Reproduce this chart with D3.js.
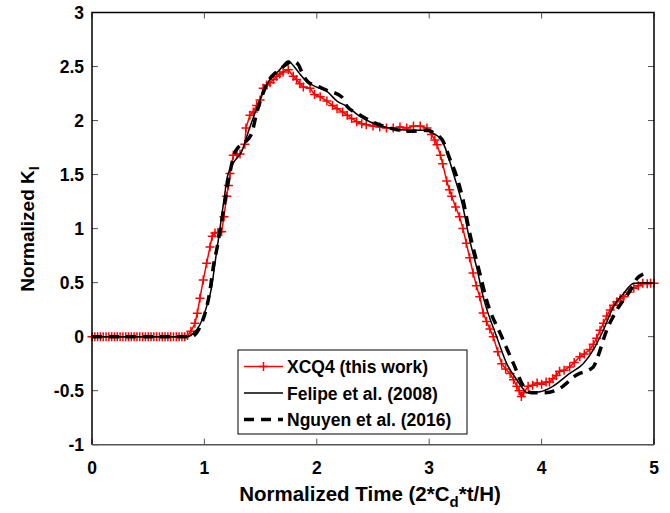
<!DOCTYPE html>
<html>
<head>
<meta charset="utf-8">
<script src="https://cdn.jsdelivr.net/npm/d3@7"></script>
<style>
  body { margin: 0; background: #fff; }
  text { font-family: "Liberation Sans", Arial, sans-serif; font-weight: bold; }
</style>
</head>
<body>
<svg id="mysvg" width="670" height="513"></svg>
<script>
// XCQ4 (this work) - red with + markers
const xcqX = [0,0.025,0.05,0.075,0.1,0.125,0.15,0.175,0.2,0.225,0.25,0.275,0.3,0.325,0.35,0.375,0.4,0.425,0.45,0.475,
  0.5,0.525,0.55,0.575,0.6,0.625,0.65,0.675,0.7,0.725,0.75,0.775,0.8,0.825,0.85,
  0.88,0.916,0.937,0.96,0.99,1.02,1.05,1.07,1.094,1.12,1.153,1.174,1.198,1.213,1.228,1.257,1.29,1.317,1.36,1.37,1.405,
  1.435,1.465,1.495,1.523,1.555,1.584,1.615,1.643,1.67,1.70,1.746,1.79,1.82,1.85,1.88,1.94,1.98,2.03,2.09,2.14,2.18,
  2.23,2.27,2.31,2.355,2.40,2.44,2.5,2.56,2.62,2.68,2.74,2.8,2.86,2.92,2.98,3.02,3.05,3.07,3.10,3.12,3.156,3.18,3.2,
  3.235,3.27,3.30,3.33,3.36,3.39,3.42,3.45,3.48,3.51,3.54,3.57,3.61,3.645,3.68,3.72,3.75,3.78,3.80,3.82,3.84,3.88,
  3.92,3.96,4.0,4.04,4.07,4.1,4.13,4.16,4.2,4.25,4.29,4.34,4.38,4.43,4.46,4.49,4.52,4.55,4.58,4.61,4.64,4.67,4.7,
  4.73,4.77,4.82,4.86,4.9,4.94,4.97,5.0];
const xcqY = [0,0,0,0,0,0,0,0,0,0,0,0,0,0,0,0,0,0,0,0,
  0,0,0,0,0,0,0,0,0,0,0,0,0,0,0.01,
  0.05,0.124,0.217,0.355,0.525,0.68,0.83,0.93,0.96,0.965,0.97,1.11,1.30,1.40,1.51,1.68,1.69,1.69,1.78,1.93,2.05,
  2.08,2.14,2.19,2.30,2.33,2.35,2.38,2.41,2.43,2.45,2.47,2.41,2.38,2.34,2.31,2.30,2.24,2.22,2.18,2.14,2.11,
  2.08,2.05,2.02,1.99,1.97,1.96,1.95,1.94,1.93,1.93,1.94,1.93,1.95,1.95,1.93,1.87,1.82,1.775,1.68,1.6,1.44,1.36,1.30,
  1.2,1.11,1.0,0.865,0.73,0.59,0.47,0.37,0.22,0.14,0.07,0.0,-0.14,-0.25,-0.30,-0.34,-0.40,-0.46,-0.5,-0.555,-0.52,-0.46,
  -0.45,-0.43,-0.44,-0.42,-0.42,-0.39,-0.36,-0.32,-0.31,-0.28,-0.24,-0.185,-0.16,-0.12,-0.07,-0.015,0.06,0.124,0.19,0.247,0.29,0.324,0.35,
  0.37,0.41,0.448,0.47,0.494,0.49,0.495,0.494];

// Felipe et al. (2008) - thin black solid
const felX = [0,0.5,0.85,0.9,0.96,1.02,1.065,1.094,1.124,1.153,1.183,1.198,1.257,1.33,1.405,1.495,1.57,1.67,1.746,1.79,
  1.835,1.91,2.0,2.09,2.18,2.27,2.38,2.5,2.65,2.83,2.98,3.04,3.11,3.156,3.215,3.30,3.36,3.42,3.48,3.60,3.69,3.78,
  3.88,3.986,4.10,4.25,4.37,4.46,4.55,4.64,4.73,4.82,4.91,5.0];
const felY = [0,0,0,0.03,0.11,0.28,0.46,0.68,0.895,1.11,1.33,1.45,1.605,1.71,1.94,2.19,2.36,2.47,2.55,2.51,
  2.45,2.36,2.31,2.27,2.18,2.13,2.04,1.975,1.93,1.91,1.91,1.88,1.82,1.71,1.51,1.20,0.895,0.65,0.37,0,-0.25,-0.40,
  -0.52,-0.51,-0.46,-0.34,-0.25,-0.123,0.062,0.278,0.40,0.494,0.50,0.494];

// Nguyen et al. (2016) - thick black dashed
const ngX = [0,0.5,0.88,0.96,1.05,1.08,1.114,1.14,1.17,1.21,1.27,1.30,1.36,1.42,1.465,1.51,1.584,1.643,1.73,1.78,
  1.835,1.865,1.92,2.0,2.09,2.22,2.27,2.355,2.49,2.65,2.83,2.98,3.05,3.125,3.185,3.245,3.30,3.36,3.45,3.51,3.645,
  3.75,3.84,3.91,4.015,4.16,4.31,4.46,4.50,4.58,4.67,4.79,4.85,4.905];
const ngY = [0,0,0,0.09,0.43,0.65,0.83,0.99,1.17,1.42,1.70,1.75,1.80,1.88,2.07,2.22,2.39,2.45,2.52,2.55,
  2.52,2.45,2.36,2.32,2.28,2.22,2.13,2.07,1.99,1.93,1.90,1.91,1.88,1.805,1.64,1.48,1.27,0.96,0.587,0.34,0,
  -0.25,-0.46,-0.52,-0.52,-0.48,-0.355,-0.28,-0.185,0.062,0.247,0.43,0.54,0.58];

const xTicks = [0,1,2,3,4,5];
const yTicks = [-1,-0.5,0,0.5,1,1.5,2,2.5,3];

const svg = d3.select('#mysvg');
const plot = { left: 92, right: 654, top: 12.5, bottom: 444.7 };

const x = d3.scaleLinear().domain([0,5]).range([plot.left, plot.right]);
const y = d3.scaleLinear().domain([-1,3]).range([plot.bottom, plot.top]);

const line = d3.line().x(d => x(d[0])).y(d => y(d[1]));

// ticks inside, on all four sides
const tk = 6;
const tg = svg.append('g').attr('stroke', '#555').attr('stroke-width', 1);
xTicks.forEach(t => {
  tg.append('line').attr('x1', x(t)).attr('x2', x(t)).attr('y1', plot.bottom).attr('y2', plot.bottom - tk);
  tg.append('line').attr('x1', x(t)).attr('x2', x(t)).attr('y1', plot.top).attr('y2', plot.top + tk);
});
yTicks.forEach(t => {
  tg.append('line').attr('y1', y(t)).attr('y2', y(t)).attr('x1', plot.left).attr('x2', plot.left + tk);
  tg.append('line').attr('y1', y(t)).attr('y2', y(t)).attr('x1', plot.right).attr('x2', plot.right - tk);
});

// tick labels
svg.append('g').selectAll('text').data(xTicks).join('text')
  .attr('x', d => x(d)).attr('y', 474).attr('text-anchor', 'middle')
  .attr('font-size', '17.5px').text(d => d);
svg.append('g').selectAll('text').data(yTicks).join('text')
  .attr('x', 84).attr('y', d => y(d) + 6.5).attr('text-anchor', 'end')
  .attr('font-size', '17.5px').text(d => d);

// series
const xcq = xcqX.map((v, i) => [v, xcqY[i]]);
const fel = felX.map((v, i) => [v, felY[i]]);
const ng = ngX.map((v, i) => [v, ngY[i]]);

svg.append('path').datum(xcq).attr('d', line)
  .attr('fill', 'none').attr('stroke', '#ff0000').attr('stroke-width', 1.5);
const ms = 4.5;
svg.append('g').attr('stroke', '#ff0000').attr('stroke-width', 1.5)
  .selectAll('path').data(xcq).join('path')
  .attr('d', d => `M${x(d[0]) - ms},${y(d[1])}H${x(d[0]) + ms}M${x(d[0])},${y(d[1]) - ms}V${y(d[1]) + ms}`);

const smooth = d3.line().x(d => x(d[0])).y(d => y(d[1])).curve(d3.curveMonotoneX);
svg.append('path').datum(fel).attr('d', smooth)
  .attr('fill', 'none').attr('stroke', '#000').attr('stroke-width', 1.5);
svg.append('path').datum(ng).attr('d', smooth)
  .attr('fill', 'none').attr('stroke', '#000').attr('stroke-width', 3.5)
  .attr('stroke-dasharray', '10,7');

// frame
svg.append('path')
  .attr('d', `M${plot.left},${plot.bottom}V${plot.top}H${plot.right}V${plot.bottom}`)
  .attr('fill', 'none').attr('stroke', '#000').attr('stroke-width', 1.5);
svg.append('line').attr('x1', plot.left).attr('x2', plot.right).attr('y1', plot.bottom).attr('y2', plot.bottom)
  .attr('stroke', '#555').attr('stroke-width', 1.5);

// axis labels
svg.append('text').attr('x', 370).attr('y', 501).attr('text-anchor', 'middle')
  .attr('font-size', '20.5px')
  .call(t => {
    t.append('tspan').text('Normalized Time (2*C');
    t.append('tspan').attr('font-size', '15px').attr('dy', 6).text('d');
    t.append('tspan').attr('dy', -6).text('*t/H)');
  });
svg.append('text').attr('transform', 'translate(34,229) rotate(-90)').attr('text-anchor', 'middle')
  .attr('font-size', '19px')
  .call(t => {
    t.append('tspan').text('Normalized K');
    t.append('tspan').attr('font-size', '14px').attr('dy', 5).text('I');
  });

// legend
const lg = svg.append('g');
lg.append('rect').attr('x', 238).attr('y', 350).attr('width', 229).attr('height', 84)
  .attr('fill', '#fff').attr('stroke', '#000').attr('stroke-width', 1);
const items = [
  {name: 'XCQ4 (this work)', color: '#ff0000', w: 1.5, dash: null, mark: true},
  {name: 'Felipe et al. (2008)', color: '#000', w: 1.5, dash: null, mark: false},
  {name: 'Nguyen et al. (2016)', color: '#000', w: 3.5, dash: '10,7', mark: false}
];
items.forEach((it, i) => {
  const ly = 366.5 + i * 26.5;
  lg.append('line').attr('x1', 244).attr('x2', 283).attr('y1', ly).attr('y2', ly)
    .attr('stroke', it.color).attr('stroke-width', it.w).attr('stroke-dasharray', it.dash);
  if (it.mark) {
    lg.append('path').attr('d', `M${263.5 - ms},${ly}H${263.5 + ms}M263.5,${ly - ms}V${ly + ms}`)
      .attr('stroke', it.color).attr('stroke-width', 1.5);
  }
  lg.append('text').attr('x', 287).attr('y', ly + 6.5).attr('font-size', '17.5px').text(it.name);
});
</script>
</body>
</html>
